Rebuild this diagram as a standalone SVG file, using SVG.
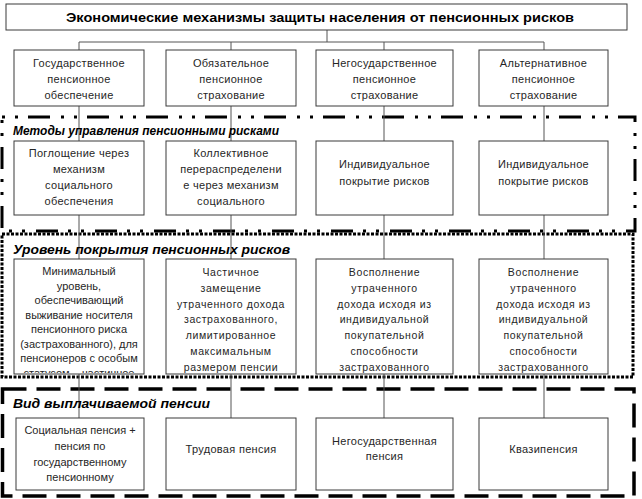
<svg xmlns="http://www.w3.org/2000/svg" width="642" height="499" viewBox="0 0 642 499">
<defs>
<style>
.bx{fill:#fff;stroke:#3a3a3a;stroke-width:1}
.t{font-family:"Liberation Sans",Arial,sans-serif;font-size:11px;fill:#262626;text-anchor:middle;letter-spacing:0.3px}
.tw{font-family:"Liberation Sans",Arial,sans-serif;font-size:10.5px;fill:#262626;text-anchor:middle;letter-spacing:0.6px}
.sec{font-family:"Liberation Sans",Arial,sans-serif;font-weight:bold;font-style:italic;fill:#000}
.ttl{font-family:"Liberation Sans",Arial,sans-serif;font-weight:bold;font-size:12px;fill:#000;text-anchor:middle}
.con{stroke:#555;stroke-width:1;fill:none}
.dd{fill:none;stroke:#000;stroke-width:3;stroke-dasharray:3 10 3 10 22 11}
.dot{fill:none;stroke:#000;stroke-width:3;stroke-dasharray:3 1.5}
.dash{fill:none;stroke:#000;stroke-width:3.5;stroke-dasharray:24 10}
</style>
<clipPath id="clip31"><rect x="14" y="259" width="130" height="114"/></clipPath>
</defs>

<g id="frames">
<rect class="dd" x="2" y="117" width="633" height="114"/>
<rect class="dot" x="2" y="234" width="631" height="143"/>
<rect class="dash" x="2.5" y="389" width="631.5" height="107"/>
</g>

<g id="connectors">
<path class="con" d="M327 30V42M79 42H544M79 42V50M231 42V50M384 42V50M544 42V50"/>
<path class="con" d="M79 106V141M231 106V141M384 106V141M544 106V141"/>
<path class="con" d="M79 215V259M231 215V259M384 215V259M544 215V259"/>
<path class="con" d="M79 374V418M231 374V418M384 374V418M544 374V418"/>
</g>

<g id="title">
<rect class="bx" x="6" y="4" width="621" height="26"/>
<text class="ttl" x="320" y="21.5" textLength="508" lengthAdjust="spacingAndGlyphs">Экономические механизмы защиты населения от пенсионных рисков</text>
</g>

<g id="labels">
<text class="sec" x="13" y="135" font-size="12" textLength="266" lengthAdjust="spacingAndGlyphs">Методы управления пенсионными рисками</text>
<text class="sec" x="13" y="253.5" font-size="13.5" textLength="277" lengthAdjust="spacingAndGlyphs">Уровень покрытия пенсионных рисков</text>
<text class="sec" x="13" y="408" font-size="13.5" textLength="197" lengthAdjust="spacingAndGlyphs">Вид выплачиваемой пенсии</text>
</g>

<g id="n11"><rect class="bx" x="14" y="50" width="130" height="56"/>
<text class="t"><tspan x="79" y="67">Государственное</tspan><tspan x="79" y="83">пенсионное</tspan><tspan x="79" y="99">обеспечение</tspan></text></g>
<g id="n12"><rect class="bx" x="166" y="50" width="130" height="56"/>
<text class="t"><tspan x="231" y="67">Обязательное</tspan><tspan x="231" y="83">пенсионное</tspan><tspan x="231" y="99">страхование</tspan></text></g>
<g id="n13"><rect class="bx" x="316" y="50" width="137" height="56"/>
<text class="t"><tspan x="384.5" y="67">Негосударственное</tspan><tspan x="384.5" y="83">пенсионное</tspan><tspan x="384.5" y="99">страхование</tspan></text></g>
<g id="n14"><rect class="bx" x="479" y="50" width="129" height="56"/>
<text class="t"><tspan x="543.5" y="67">Альтернативное</tspan><tspan x="543.5" y="83">пенсионное</tspan><tspan x="543.5" y="99">страхование</tspan></text></g>

<g id="n21"><rect class="bx" x="14" y="141" width="130" height="74"/>
<text class="t"><tspan x="79" y="157">Поглощение через</tspan><tspan x="79" y="173">механизм</tspan><tspan x="79" y="189">социального</tspan><tspan x="79" y="205">обеспечения</tspan></text></g>
<g id="n22"><rect class="bx" x="166" y="141" width="130" height="74"/>
<text class="t"><tspan x="231" y="157">Коллективное</tspan><tspan x="231" y="173">перераспределени</tspan><tspan x="231" y="189">е через механизм</tspan><tspan x="231" y="205">социального</tspan></text></g>
<g id="n23"><rect class="bx" x="316" y="141" width="137" height="74"/>
<text class="t"><tspan x="384.5" y="168">Индивидуальное</tspan><tspan x="384.5" y="184.5">покрытие рисков</tspan></text></g>
<g id="n24"><rect class="bx" x="479" y="141" width="129" height="74"/>
<text class="t"><tspan x="543.5" y="168">Индивидуальное</tspan><tspan x="543.5" y="184.5">покрытие рисков</tspan></text></g>

<g id="n31"><rect class="bx" x="14" y="259" width="130" height="115"/>
<text class="t" clip-path="url(#clip31)" style="letter-spacing:0"><tspan x="79" y="275">Минимальный</tspan><tspan x="79" y="289.5">уровень,</tspan><tspan x="79" y="304">обеспечивающий</tspan><tspan x="79" y="318.5">выживание носителя</tspan><tspan x="79" y="333">пенсионного риска</tspan><tspan x="79" y="347.5">(застрахованного), для</tspan><tspan x="79" y="362">пенсионеров с особым</tspan><tspan x="79" y="376.5">статусом – частичное</tspan></text></g>
<g id="n32"><rect class="bx" x="166" y="259" width="130" height="115"/>
<text class="tw"><tspan x="231" y="276">Частичное</tspan><tspan x="231" y="292">замещение</tspan><tspan x="231" y="307.5">утраченного дохода</tspan><tspan x="231" y="323">застрахованного,</tspan><tspan x="231" y="339">лимитированное</tspan><tspan x="231" y="355">максимальным</tspan><tspan x="231" y="371">размером пенсии</tspan></text></g>
<g id="n33"><rect class="bx" x="316" y="259" width="137" height="115"/>
<text class="tw"><tspan x="384.5" y="276">Восполнение</tspan><tspan x="384.5" y="292">утраченного</tspan><tspan x="384.5" y="307.5">дохода исходя из</tspan><tspan x="384.5" y="323">индивидуальной</tspan><tspan x="384.5" y="339">покупательной</tspan><tspan x="384.5" y="355">способности</tspan><tspan x="384.5" y="371">застрахованного</tspan></text></g>
<g id="n34"><rect class="bx" x="479" y="259" width="129" height="115"/>
<text class="tw"><tspan x="543.5" y="276">Восполнение</tspan><tspan x="543.5" y="292">утраченного</tspan><tspan x="543.5" y="307.5">дохода исходя из</tspan><tspan x="543.5" y="323">индивидуальной</tspan><tspan x="543.5" y="339">покупательной</tspan><tspan x="543.5" y="355">способности</tspan><tspan x="543.5" y="371">застрахованного</tspan></text></g>

<g id="n41"><rect class="bx" x="16" y="418" width="128" height="72"/>
<text class="t" style="letter-spacing:0"><tspan x="80" y="434">Социальная пенсия +</tspan><tspan x="80" y="450">пенсия по</tspan><tspan x="80" y="466">государственному</tspan><tspan x="80" y="481">пенсионному</tspan></text></g>
<g id="n42"><rect class="bx" x="166" y="418" width="130" height="72"/>
<text class="t" x="231" y="453">Трудовая пенсия</text></g>
<g id="n43"><rect class="bx" x="316" y="418" width="137" height="72"/>
<text class="t"><tspan x="384.5" y="445">Негосударственная</tspan><tspan x="384.5" y="460">пенсия</tspan></text></g>
<g id="n44"><rect class="bx" x="479" y="418" width="129" height="72"/>
<text class="t" x="543.5" y="453">Квазипенсия</text></g>
</svg>
